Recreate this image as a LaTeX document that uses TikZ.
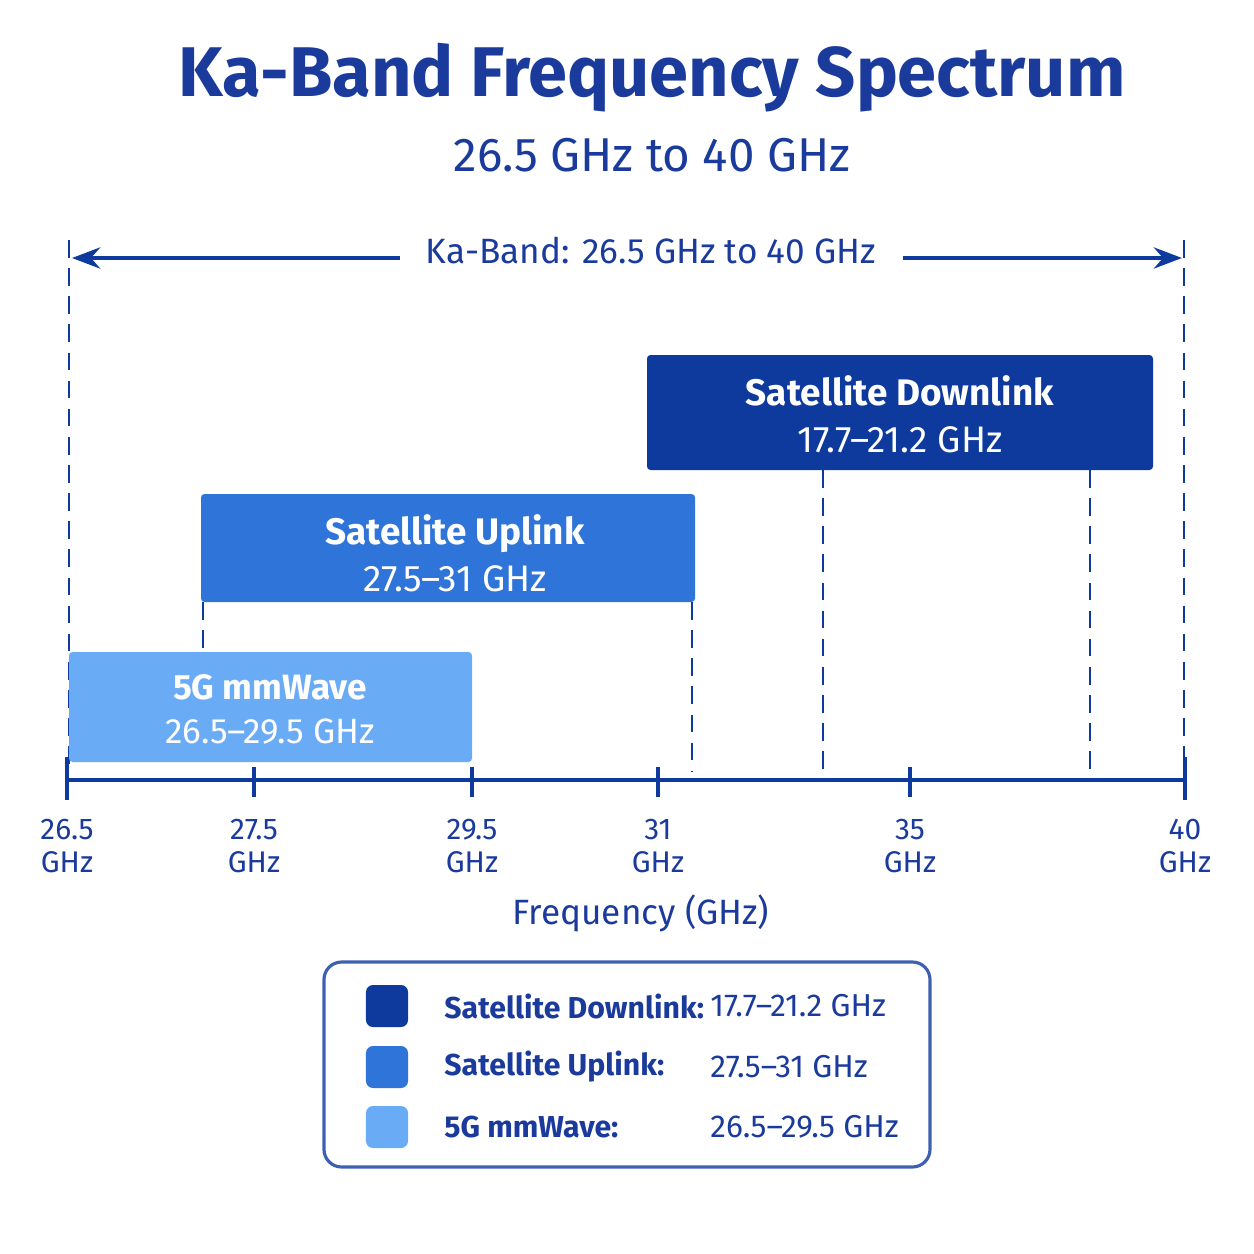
\documentclass[tikz,border=0pt]{standalone}
\usepackage{fontspec}
\setmainfont{Fira Sans}
\usetikzlibrary{arrows.meta,positioning}
\definecolor{kadark}{HTML}{0D3A9C}
\definecolor{kamid}{HTML}{2F74D8}
\definecolor{kalight}{HTML}{6AABF5}
\definecolor{katext}{HTML}{1A3A9C}
\tikzset{
  bandbox/.style={draw=none,rounded corners=1pt,text=white,align=center,font=\fontsize{10.5}{13.5}\selectfont},
  guide/.style={kadark,dash pattern=on 5pt off 3pt,line width=0.8pt},
  ticklbl/.style={text=katext,align=center,font=\fontsize{8.5}{9.5}\selectfont},
  legtxt/.style={text=katext,anchor=west,font=\fontsize{9}{11}\selectfont},
  swatch/.style={minimum size=0.42cm,rounded corners=2pt,inner sep=0pt}
}
\begin{document}
\begin{tikzpicture}[x=0.01cm,y=-0.01cm]
  \useasboundingbox (0,0) rectangle (1254,1254);
  % titles
  \node[text=katext,font=\bfseries\fontsize{20}{24}\selectfont] (title) at (652,78) {Ka-Band Frequency Spectrum};
  \node[text=katext,font=\fontsize{13.5}{16}\selectfont] (subtitle) at (652,155) {26.5 GHz to 40 GHz};
  % span arrow
  \node[text=katext,font=\fontsize{10}{12}\selectfont] (span) at (651,251) {Ka-Band: 26.5 GHz to 40 GHz};
  \coordinate (spanL) at (72,258);
  \coordinate (spanR) at (1182,258);
  \draw[kadark,line width=1.2pt,-{Stealth[length=8pt]}] (400,258) -- (spanL);
  \draw[kadark,line width=1.2pt,-{Stealth[length=8pt]}] (903,258) -- (spanR);
  % guides
  \draw[guide] (69,240) -- (69,770);
  \draw[guide] (1184,240) -- (1184,770);
  \draw[guide] (823,470) -- (823,770);
  \draw[guide] (1090,470) -- (1090,770);
  \draw[guide] (203,602) -- (203,652);
  \draw[guide] (692,602) -- (692,772);
  % bands
  \fill[kadark,rounded corners=1pt] (647,355) rectangle (1153,470);
  \node[bandbox] (down) at (900,414) {\textbf{Satellite Downlink}\\17.7–21.2 GHz};
  \fill[kamid,rounded corners=1pt] (201,494) rectangle (695,602);
  \node[bandbox] (up) at (455,553) {\textbf{Satellite Uplink}\\27.5–31 GHz};
  \fill[kalight,rounded corners=1pt] (69,652) rectangle (472,762);
  \node[bandbox,font=\fontsize{10}{12.5}\selectfont] (mm) at (270,709) {\textbf{5G mmWave}\\26.5–29.5 GHz};
  % axis
  \draw[kadark,line width=1.3pt] (67,780) -- (1185,780);
  \foreach \xt/\lbl in {67/26.5,254/27.5,472/29.5,658/31,910/35,1185/40} {
    \draw[kadark,line width=1.3pt] (\xt,767) -- (\xt,797);
    \node[ticklbl] at (\xt,846) {\lbl\\GHz};
  }
  \draw[kadark,line width=1.3pt] (67,757) -- (67,800);
  \draw[kadark,line width=1.3pt] (1185,757) -- (1185,800);
  \node[text=katext,font=\fontsize{10}{12}\selectfont] (xlabel) at (641,913) {Frequency (GHz)};
  % legend
  \draw[kadark!80,line width=0.9pt,rounded corners=5pt] (324,962) rectangle (930,1167);
  \foreach \yy/\col/\name/\rng in {1006/kadark/Satellite Downlink:/17.7–21.2 GHz,1067/kamid/Satellite Uplink:/27.5–31 GHz,1127/kalight/5G mmWave:/26.5–29.5 GHz} {
    \node[swatch,fill=\col] at (387,\yy) {};
    \node[legtxt,font=\bfseries\fontsize{8.6}{11}\selectfont] at (432,\yy) {\name};
    \node[legtxt] at (698,\yy) {\rng};
  }
\end{tikzpicture}
\end{document}
